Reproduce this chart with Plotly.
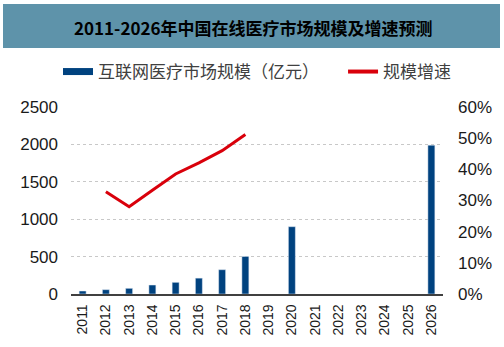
import plotly.graph_objects as go

years = [str(y) for y in range(2011, 2027)]
market = [40, 58, 76, 120, 156, 212, 325, 502, None, 900, None, None, None, None, None, 1990]
growth_years = [str(y) for y in range(2012, 2019)]
growth = [32.8, 28.0, 33.3, 38.5, 42.1, 46.0, 51.2]

bar_name = "互联网医疗市场规模（亿元）"
line_name = "规模增速"
title_text = "2011-2026年中国在线医疗市场规模及增速预测"

BLUE = "#00427F"
RED = "#D9000B"

W, H = 504, 347
L, R, T, B = 71, 443, 107, 294

fig = go.Figure()
fig.add_trace(go.Bar(x=years, y=market, marker_color=BLUE, width=0.3,
                     showlegend=False, name=bar_name))
fig.add_trace(go.Scatter(x=growth_years, y=growth, yaxis="y2", mode="lines",
                         line=dict(color=RED, width=3), showlegend=False, name=line_name))
# legend-only entries
fig.add_trace(go.Scatter(x=[None], y=[None], mode="lines", name=bar_name + "\u00a0" * 5,
                         line=dict(color=BLUE, width=7)))
fig.add_trace(go.Scatter(x=[None], y=[None], mode="lines", name=line_name,
                         line=dict(color=RED, width=4)))

def px_x(p):
    return (p - L) / (R - L)

def px_y(p):
    return (B - p) / (B - T)

fig.update_layout(
    width=W, height=H,
    margin=dict(l=L, r=W - R, t=T, b=H - B, pad=0),
    plot_bgcolor="white", paper_bgcolor="white",
    font=dict(family="Liberation Sans, Arial, sans-serif", color="#1a1a1a"),
    bargap=0.7,
    xaxis=dict(type="category", categoryorder="array", categoryarray=years,
               tickangle=-90, tickfont=dict(size=14), showgrid=False,
               showline=True, linecolor="#404040", linewidth=1.5,
               ticks="", ticklabelstandoff=3, fixedrange=True, automargin=False),
    yaxis=dict(range=[0, 2500], dtick=500, tickfont=dict(size=17),
               showgrid=True, gridcolor="#C8C8C8", griddash="dot", gridwidth=1,
               zeroline=False, ticks="", ticklabelstandoff=12, automargin=False),
    yaxis2=dict(range=[0, 60], dtick=10, ticksuffix="%", overlaying="y", side="right",
                tickfont=dict(size=17), showgrid=False, zeroline=False, ticks="",
                ticklabelstandoff=14, automargin=False),
    legend=dict(orientation="h", x=px_x(58), y=px_y(72), yanchor="middle", xanchor="left",
                font=dict(size=17, color="#404040",
                          family="Noto Sans CJK SC, sans-serif"),
                bgcolor="rgba(0,0,0,0)", itemwidth=30, tracegroupgap=0),
    shapes=[dict(type="rect", xref="paper", yref="paper",
                 x0=px_x(3), x1=px_x(500), y0=px_y(48), y1=px_y(4),
                 fillcolor="#5E93AA", line=dict(width=0), layer="below")],
    annotations=[dict(text="<b>" + title_text + "</b>", xref="paper", yref="paper",
                      x=px_x(253), y=px_y(27), showarrow=False,
                      xanchor="center", yanchor="middle",
                      font=dict(size=17, color="#000000",
                                family="Noto Sans CJK SC, sans-serif"))],
)

fig.write_html("out.html")
